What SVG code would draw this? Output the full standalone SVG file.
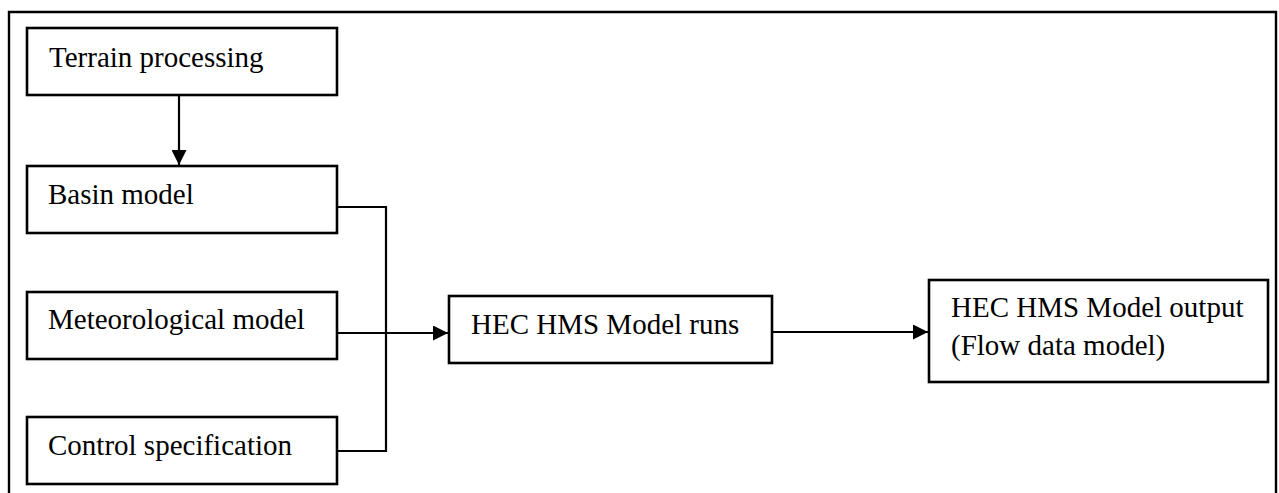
<svg xmlns="http://www.w3.org/2000/svg" width="1279" height="493" viewBox="0 0 1279 493">
<style>
.box{fill:#fff;stroke:#000;stroke-width:2.6}
.t{font-family:'Liberation Serif','DejaVu Serif',serif;font-size:29px;fill:#000}
.c{fill:none;stroke:#000;stroke-width:2.2}
</style>
<defs>
<marker id="ah" markerWidth="15" markerHeight="15" refX="15" refY="7.5" orient="auto" markerUnits="userSpaceOnUse">
<path d="M0,0 L15,7.5 L0,15 Z" fill="#000"/>
</marker>
</defs>
<rect width="1279" height="493" fill="#fff"/>
<path d="M9,500 V12 H1276 V500" fill="none" stroke="#000" stroke-width="2.4"/>
<g id="connectors">
<line class="c" x1="179" y1="95" x2="179" y2="165" marker-end="url(#ah)"/>
<path class="c" d="M337,207 H386 V451 H337"/>
<line class="c" x1="337" y1="333" x2="448" y2="333" marker-end="url(#ah)"/>
<line class="c" x1="772" y1="332" x2="928" y2="332" marker-end="url(#ah)"/>
</g>
<g id="terrain"><rect class="box" x="27" y="28" width="310" height="67"/><text class="t" x="49" y="67" font-family="Liberation Serif">Terrain processing</text></g>
<g id="basin"><rect class="box" x="27" y="166" width="310" height="67"/><text class="t" x="48" y="204">Basin model</text></g>
<g id="meteo"><rect class="box" x="27" y="292" width="310" height="67"/><text class="t" x="48" y="329">Meteorological model</text></g>
<g id="control"><rect class="box" x="27" y="417" width="310" height="67"/><text class="t" x="48" y="455">Control specification</text></g>
<g id="runs"><rect class="box" x="449" y="296" width="323" height="67"/><text class="t" x="471" y="334">HEC HMS Model runs</text></g>
<g id="output"><rect class="box" x="929" y="280" width="339" height="102"/><text class="t" x="951" y="317">HEC HMS Model output</text><text class="t" x="951" y="355">(Flow data model)</text></g>
</svg>
